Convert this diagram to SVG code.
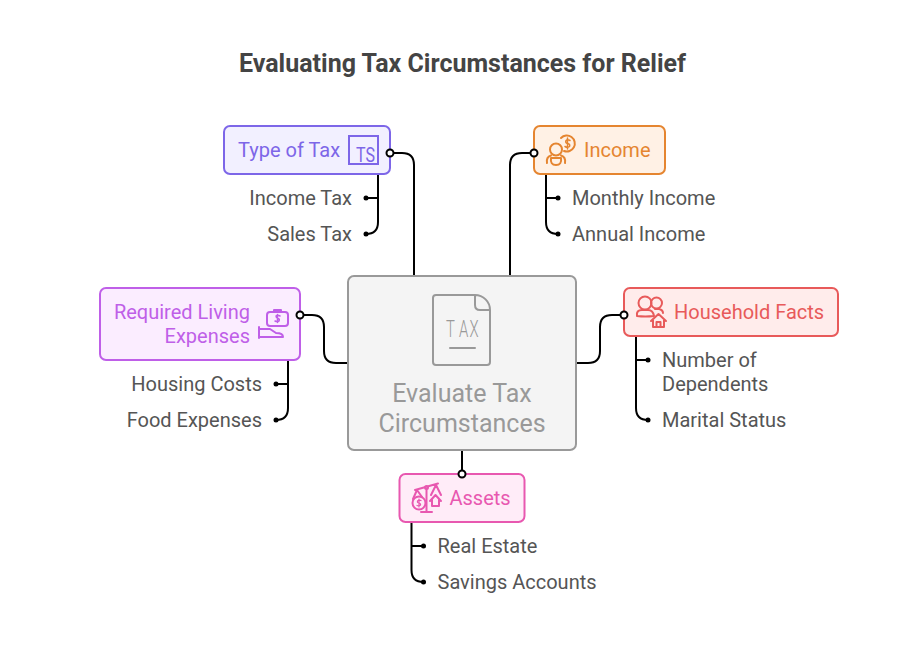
<svg xmlns="http://www.w3.org/2000/svg" width="924" height="672" viewBox="0 0 924 672">
<style>
text{font-family:Roboto,"Liberation Sans",sans-serif;font-size:20px;fill:#555}
.title{font-size:25px;font-weight:700;fill:#444;text-anchor:middle}
.e{text-anchor:end}
.c{fill:none;stroke:#000;stroke-width:2}
.d{fill:#000;stroke:none}
.o{fill:#fff;stroke:#000;stroke-width:2}
.i{fill:none;stroke-width:2;stroke-linecap:round;stroke-linejoin:round}
.b{stroke-width:2}
</style>
<rect width="924" height="672" fill="#fff"/>
<text class="title" x="462.500" y="72">Evaluating Tax Circumstances for Relief</text>
<g id="connectors">
<path class="c" d="M390 153H402Q414 153 414 165V276"/>
<path class="c" d="M534 153H522Q510 153 510 165V276"/>
<path class="c" d="M300 315H312Q324 315 324 327V351Q324 363 336 363H348"/>
<path class="c" d="M624 315H612Q600 315 600 327V351Q600 363 588 363H576"/>
<path class="c" d="M462 450V474"/>
<path class="c" d="M378 175V222Q378 234 366 234M378 198H366"/>
<path class="c" d="M546 175V222Q546 234 558 234M546 198H558"/>
<path class="c" d="M288 360V408Q288 420 276 420M288 384H276"/>
<path class="c" d="M636 336V408Q636 420 648 420M636 360H648"/>
<path class="c" d="M411.500 522V570Q411.500 582 423.500 582M411.500 546H423.500"/>
<circle class="d" cx="366" cy="198" r="2.500"/><circle class="d" cx="366" cy="234" r="2.500"/>
<circle class="d" cx="558" cy="198" r="2.500"/><circle class="d" cx="558" cy="234" r="2.500"/>
<circle class="d" cx="276" cy="384" r="2.500"/><circle class="d" cx="276" cy="420" r="2.500"/>
<circle class="d" cx="648" cy="360" r="2.500"/><circle class="d" cx="648" cy="420" r="2.500"/>
<circle class="d" cx="423.500" cy="546" r="2.500"/><circle class="d" cx="423.500" cy="582" r="2.500"/>
</g>
<g id="center">
<rect class="b" x="348" y="276" width="228" height="174" rx="6" fill="#f4f4f4" stroke="#999"/>
<path class="i" stroke="#999" d="M436 295H475A15 15 0 0 1 490 310V362Q490 365 487 365H436Q433 365 433 362V298Q433 295 436 295ZM475 295V305Q475 310 480 310H490M450 348H475"/>
<text transform="translate(446 337) scale(.62 1)" x="0 21 38" y="0" style="font-size:24px;fill:#999;font-weight:300">TAX</text>
<text x="462" y="402" text-anchor="middle" style="font-size:25px;fill:#999">Evaluate Tax</text>
<text x="462" y="432" text-anchor="middle" style="font-size:25px;fill:#999">Circumstances</text>
</g>
<g id="type-of-tax">
<rect class="b" x="224" y="126" width="166" height="48" rx="6" fill="#f2f0ff" stroke="#7d66e8"/>
<text x="238" y="157" style="fill:#7d66e8">Type of Tax</text>
<rect x="349" y="136" width="29" height="28" fill="none" stroke="#7d66e8" stroke-width="2"/>
<text x="356" y="162" style="font-size:21px;fill:#7d66e8" textLength="19" lengthAdjust="spacingAndGlyphs">TS</text>
<text class="e" x="352" y="205">Income Tax</text>
<text class="e" x="352" y="241">Sales Tax</text>
</g>
<g id="income">
<rect class="b" x="534" y="126" width="131" height="48" rx="6" fill="#fff1e5" stroke="#e58530"/>
<text x="584" y="157" style="fill:#e58530">Income</text>
<g class="i" stroke="#e58530">
<path d="M561 138A8 8 0 1 1 564 151"/>
<circle cx="556" cy="149.500" r="6"/>
<path d="M547 163Q546 157 551 155.500M565 163Q566 157 561 155.500M551 158H561Q562 165 556 165Q550 165 551 158Z"/>
<path d="M570 140.500Q567.500 139 566 140.500Q565 143 567.500 143.500Q570.500 144 569.500 146.500Q567.500 148 565 146.500M567.500 138V149" stroke-width="1.500"/>
</g>
<text x="572" y="205">Monthly Income</text>
<text x="572" y="241">Annual Income</text>
</g>
<g id="required-living-expenses">
<rect class="b" x="100" y="288" width="200" height="72" rx="6" fill="#fbedff" stroke="#bf5fe8"/>
<text class="e" x="250" y="319" style="fill:#bf5fe8">Required Living</text>
<text class="e" x="250" y="343" style="fill:#bf5fe8">Expenses</text>
<g class="i" stroke="#bf5fe8">
<rect x="267" y="312" width="21" height="14" rx="3"/>
<path d="M274 312V310H281V312M259 327V338M259 329H270L276 333Q283 333 283 337H259"/>
<path d="M280 316Q277.500 314.500 276 316Q276 318 278 318.500Q280 319 279 321Q277 322 275 321M277.500 314.500V322.500" stroke-width="1.500"/>
</g>
<text class="e" x="262" y="391">Housing Costs</text>
<text class="e" x="262" y="427">Food Expenses</text>
</g>
<g id="household-facts">
<rect class="b" x="624" y="288" width="214" height="48" rx="6" fill="#ffeceb" stroke="#e85a5a"/>
<text x="674" y="319" style="fill:#e85a5a">Household Facts</text>
<g class="i" stroke="#e85a5a">
<circle cx="645" cy="303" r="6.500"/>
<circle cx="656.500" cy="303" r="5.500"/>
<path d="M637 316Q636 310 642 310H648Q653 310 654 316Q645 317 637 316ZM655 309H659Q663 310 663 313"/>
<path d="M651 321L658.500 314L666 321M653 320V327H664V320M656.500 327V322H660.500V327"/>
</g>
<text x="662" y="367">Number of</text>
<text x="662" y="391">Dependents</text>
<text x="662" y="427">Marital Status</text>
</g>
<g id="assets">
<rect class="b" x="399.500" y="474" width="125" height="48" rx="6" fill="#ffecf8" stroke="#e858b0"/>
<text x="449.500" y="505" style="fill:#e858b0">Assets</text>
<g class="i" stroke="#e858b0">
<path d="M415 490L438 483.500M426.500 489V512M421 512H432M417 490L413 499M417 490L422 497M436 485L431 495M436 485L441 495"/>
<circle cx="426.500" cy="487.500" r="1.500"/>
<circle cx="419" cy="503" r="6.500"/>
<path d="M430 501L435.500 495L441 501M432 500V506H439V500"/>
<path d="M421 500.500Q419 499.500 417.500 501Q417 503 419 503Q421 503.500 420.500 505Q419 506.500 417 505.500M419 499V507" stroke-width="1.200"/>
</g>
<text x="437.500" y="553">Real Estate</text>
<text x="437.500" y="589">Savings Accounts</text>
</g>
<g id="ports">
<circle class="o" cx="390" cy="153" r="3.500"/>
<circle class="o" cx="534" cy="153" r="3.500"/>
<circle class="o" cx="300" cy="315" r="3.500"/>
<circle class="o" cx="624" cy="315" r="3.500"/>
<circle class="o" cx="462" cy="474" r="3.500"/>
</g>
</svg>
